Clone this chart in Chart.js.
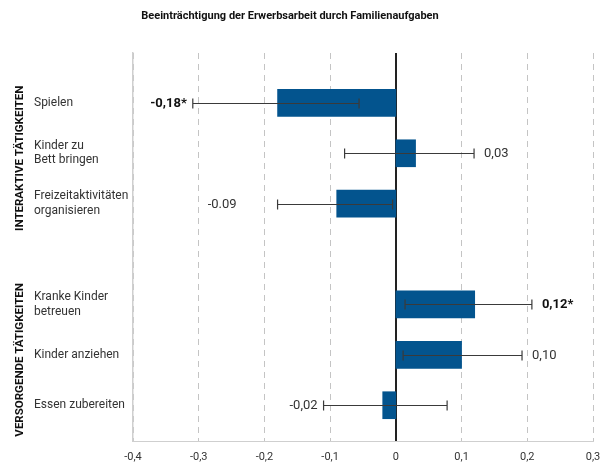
<!DOCTYPE html>
<html>
<head>
<meta charset="utf-8">
<script src="https://cdn.jsdelivr.net/npm/chart.js@4.4.1/dist/chart.umd.min.js"></script>
<style>
  html, body { margin: 0; padding: 0; background: #fff; }
  #wrap { width: 606px; height: 462px; }
</style>
</head>
<body>
<div id="wrap"><canvas id="chart"></canvas></div>
<script>
// categories top to bottom, index 3 is the empty gap between the two groups
const categories = ['Spielen', ['Kinder zu', 'Bett bringen'], ['Freizeitaktivitäten', 'organisieren'], '',
    ['Kranke Kinder', 'betreuen'], 'Kinder anziehen', 'Essen zubereiten'];
const values  = [-0.18, 0.03, -0.09, null, 0.12, 0.10, -0.02];
const errLow  = [-0.309, -0.078, -0.18, null, 0.014, 0.011, -0.11];
const errHigh = [-0.056, 0.119, -0.005, null, 0.207, 0.192, 0.078];
const valueLabels = ['-0,18*', '0,03', '-0.09', '', '0,12*', '0,10', '-0,02'];
const boldLabel   = [true, false, false, false, true, false, false];
const labelSide   = ['left', 'right', 'left', '', 'right', 'right', 'left'];
const groupNames  = ['INTERAKTIVE TÄTIGKEITEN', 'VERSORGENDE TÄTIGKEITEN'];
const groupCenter = [1.1, 5.1];
const xMin = -0.4, xMax = 0.3, xStep = 0.1;

const FONT = 'Roboto, "Liberation Sans", sans-serif';
const BLUE = '#03548e';

// error bars, value labels, group labels and title
const extras = {
    id: 'extras',
    afterDatasetsDraw(chart) {
        const ctx = chart.ctx, xs = chart.scales.x, ys = chart.scales.y;
        ctx.save();
        values.forEach((v, i) => {
            if (v === null) return;
            const y = Math.round(ys.getPixelForValue(i)) + 0.5;
            const x1 = xs.getPixelForValue(errLow[i]);
            const x2 = xs.getPixelForValue(errHigh[i]);
            ctx.strokeStyle = '#3a3a3a';
            ctx.lineWidth = 1.2;
            ctx.beginPath();
            ctx.moveTo(x1, y); ctx.lineTo(x2, y);
            ctx.moveTo(x1, y - 5); ctx.lineTo(x1, y + 5);
            ctx.moveTo(x2, y - 5); ctx.lineTo(x2, y + 5);
            ctx.stroke();

            // value label beside the error bar
            const gap = i === 2 ? 41 : (labelSide[i] === 'left' ? 6 : 10);
            ctx.font = (boldLabel[i] ? 'bold ' : '') + '13px ' + FONT;
            ctx.fillStyle = boldLabel[i] ? '#111' : '#333';
            ctx.textBaseline = 'middle';
            if (labelSide[i] === 'left') {
                ctx.textAlign = 'right';
                ctx.fillText(valueLabels[i], x1 - gap, y);
            } else {
                ctx.textAlign = 'left';
                ctx.fillText(valueLabels[i], x2 + gap, y);
            }
        });

        // rotated group names
        ctx.font = 'bold 11.5px ' + FONT;
        ctx.fillStyle = '#111';
        ctx.textAlign = 'center';
        ctx.textBaseline = 'middle';
        groupNames.forEach((name, g) => {
            ctx.save();
            ctx.translate(20, ys.getPixelForValue(groupCenter[g]));
            ctx.rotate(-Math.PI / 2);
            ctx.fillText(name, 0, 0);
            ctx.restore();
        });

        // title
        ctx.font = 'bold 11px ' + FONT;
        ctx.fillText('Beeinträchtigung der Erwerbsarbeit durch Familienaufgaben', 290, 16);
        ctx.restore();
    }
};

new Chart(document.getElementById('chart'), {
    type: 'bar',
    data: {
        datasets: [{
            data: values.map((v, i) => v === null ? null : { x: v, y: i }).filter(Boolean),
            backgroundColor: BLUE,
            barThickness: 27
        }]
    },
    options: {
        indexAxis: 'y',
        responsive: true,
        maintainAspectRatio: false,
        animation: false,
        layout: { padding: { top: 53, left: 34, right: 13, bottom: 0 } },
        plugins: { legend: { display: false }, tooltip: { enabled: false } },
        scales: {
            x: {
                type: 'linear',
                min: xMin, max: xMax,
                afterFit: s => { s.height = 21; s.paddingRight = 0; s.paddingLeft = 0; },
                ticks: {
                    stepSize: xStep,
                    maxRotation: 0,
                    minRotation: 0,
                    color: '#333',
                    font: { family: FONT, size: 11 },
                    padding: 10,
                    callback: v => Math.abs(v) < 1e-9 ? '0' : v.toFixed(1).replace('.', ',')
                },
                grid: {
                    drawTicks: false,
                    color: c => c.tick && Math.abs(c.tick.value) < 1e-9 ? '#222' : '#c4c4c4',
                    lineWidth: c => c.tick && Math.abs(c.tick.value) < 1e-9 ? 2 : 1
                },
                border: {
                    display: true,
                    color: '#cfcfcf',
                    dash: c => c.tick && Math.abs(c.tick.value) < 1e-9 ? [] : [6, 5]
                }
            },
            y: {
                type: 'linear',
                reverse: true,
                offset: false,
                bounds: 'data',
                min: -0.99, max: 6.71,
                afterBuildTicks: s => { s.ticks = categories.map((c, i) => ({ value: i })); },
                afterFit: s => { s.width = 99; },
                ticks: {
                    stepSize: 1,
                    autoSkip: false,
                    crossAlign: 'far',
                    color: '#333',
                    font: { family: FONT, size: 12 },
                    callback: v => categories[v]
                },
                grid: { display: false, drawTicks: false, offset: false },
                border: { display: true, color: '#cfcfcf', width: 1.5 }
            }
        }
    },
    plugins: [extras]
});
</script>
</body>
</html>
